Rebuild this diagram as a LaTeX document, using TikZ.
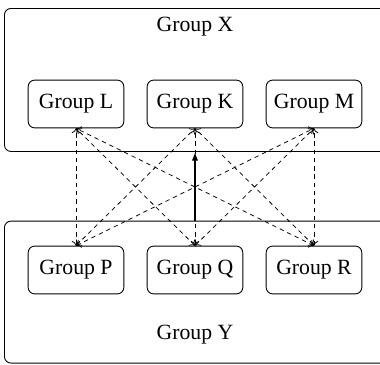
\documentclass[tikz,border=0pt]{standalone}
\usepackage{fontspec}
\setmainfont{Liberation Serif}
\usetikzlibrary{arrows.meta}
\tikzset{
	group/.style={draw, rounded corners=3pt, minimum width=44pt, minimum height=22pt, inner sep=0pt},
	outer/.style={draw, rounded corners=3pt, inner sep=0pt},
	link/.style={{To[length=2.2pt, width=4pt]}-{To[length=2.2pt, width=4pt]}, dash pattern=on 2pt off 1.8pt, line width=0.35pt},
	main/.style={-{Latex[length=4pt, width=3pt]}, line width=1pt}
}
\begin{document}
\begin{tikzpicture}[x=0.46pt, y=0.46pt]
	\useasboundingbox (0, 0) rectangle (380, 364);
	\clip (0, 0) rectangle (380, 364);
	\node[outer, minimum width=190pt, minimum height=65.8pt, anchor=north west] (X) at (4, 356) {};
	\node[outer, minimum width=190pt, minimum height=65.3pt, anchor=south west] (Y) at (4, 0.5) {};
	\node (Xlabel) at (195, 337) {Group X};
	\node (Ylabel) at (195, 29) {Group Y};
	\foreach \name/\x in {L/76, K/195, M/314}
		\node[group] (\name) at (\x, 260) {Group \name};
	\foreach \name/\x in {P/76, Q/195, R/314}
		\node[group] (\name) at (\x, 94) {Group \name};
	\foreach \a in {L, K, M}
		\foreach \b in {P, Q, R}
			\draw[link] (\b.north) -- (\a.south);
	\draw[main] (Y.north -| Q) -- (X.south -| K);
\end{tikzpicture}
\end{document}
